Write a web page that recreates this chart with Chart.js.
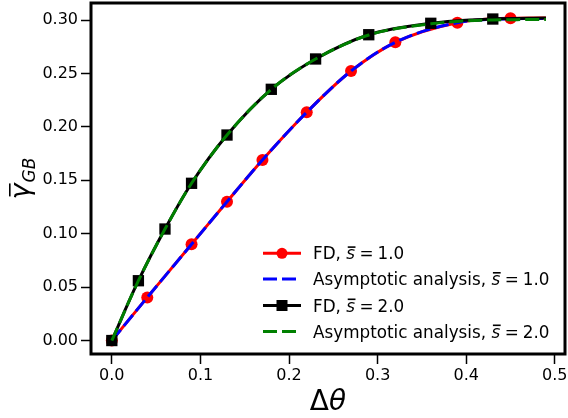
<!DOCTYPE html>
<html>
<head>
<meta charset="utf-8">
<script src="https://cdn.jsdelivr.net/npm/chart.js@4.4.0/dist/chart.umd.min.js"></script>
<style>
  html, body { margin: 0; padding: 0; background: #fff; }
  #wrap { width: 568px; height: 418px; }
</style>
</head>
<body>
<div id="wrap"><canvas id="chart" width="568" height="418"></canvas></div>
<script>
// values
const fdS1X = [0, 0.04, 0.09, 0.13, 0.17, 0.22, 0.27, 0.32, 0.39, 0.45, 0.49];
const fdS1Y = [0, 0.0404, 0.0901, 0.130, 0.169, 0.2137, 0.2523, 0.2792, 0.2976, 0.3017, 0.3020];
const asS1X = [0, 0.04, 0.09, 0.13, 0.17, 0.22, 0.27, 0.32, 0.39, 0.45, 0.49];
const asS1Y = [0, 0.0404, 0.0901, 0.130, 0.169, 0.2137, 0.2523, 0.2792, 0.2976, 0.3012, 0.3015];

const fdS2X = [0, 0.03, 0.06, 0.09, 0.13, 0.18, 0.23, 0.29, 0.36, 0.43, 0.49];
const fdS2Y = [0, 0.056, 0.1044, 0.1472, 0.1924, 0.2352, 0.2636, 0.2863, 0.2970, 0.3010, 0.3020];
const asS2X = [0, 0.03, 0.06, 0.09, 0.13, 0.18, 0.23, 0.29, 0.36, 0.43, 0.49];
const asS2Y = [0, 0.056, 0.1044, 0.1472, 0.1924, 0.2352, 0.2636, 0.2860, 0.2965, 0.3002, 0.3005];

const xTicks = [0, 0.1, 0.2, 0.3, 0.4, 0.5];
const xTickLabels = ["0.0", "0.1", "0.2", "0.3", "0.4", "0.5"];
const yTicks = [0, 0.05, 0.10, 0.15, 0.20, 0.25, 0.30];
const yTickLabels = ["0.00", "0.05", "0.10", "0.15", "0.20", "0.25", "0.30"];

const legendNames = ["FD, ", "Asymptotic analysis, ", "FD, ", "Asymptotic analysis, "];
const legendValues = ["1.0", "1.0", "2.0", "2.0"];

const FONT = "'DejaVu Sans', sans-serif";
const DASH = [14, 5];
// plot box in the figure (matplotlib axes position)
const AREA = { left: 91, right: 565, top: 3, bottom: 354 };

function pts(xs, ys) {
  return xs.map((x, i) => ({ x: x, y: ys[i] }));
}
// markers on every point except the last line end
function markerSizes(xs, r) {
  return xs.map((x, i) => (i === xs.length - 1 ? 0 : r));
}

const styles = [
  { color: "#ff0000", dash: [], marker: "circle" },
  { color: "#0000ff", dash: DASH, marker: null },
  { color: "#000000", dash: [], marker: "rect" },
  { color: "#008000", dash: DASH, marker: null },
];

// pin the chart area to the axes box of the original figure
const areaPlugin = {
  id: "area",
  afterLayout(chart) {
    const a = chart.chartArea;
    a.left = AREA.left; a.right = AREA.right; a.top = AREA.top; a.bottom = AREA.bottom;
    a.width = a.right - a.left; a.height = a.bottom - a.top;
    const x = chart.scales.x, y = chart.scales.y;
    x.left = a.left; x.right = a.right; x.width = a.width; x.top = a.bottom;
    y.top = a.top; y.bottom = a.bottom; y.height = a.height; y.right = a.left;
    x.configure();
    y.configure();
  },
};

const framePlugin = {
  id: "frame",
  afterDatasetsDraw(chart) {
    const { ctx, chartArea: a } = chart;
    ctx.save();
    ctx.strokeStyle = "#000";
    ctx.lineWidth = 3;
    ctx.strokeRect(a.left, a.top, a.right - a.left, a.bottom - a.top);
    ctx.restore();
  },
};

function drawBar(ctx, x, y, w) {
  ctx.fillRect(x, y, w, 1.6);
}

const textPlugin = {
  id: "texts",
  afterDraw(chart) {
    const { ctx, chartArea: a } = chart;
    ctx.save();
    ctx.fillStyle = "#000";

    // x axis title: Δθ
    ctx.textBaseline = "alphabetic";
    ctx.font = "28px " + FONT;
    const wD = ctx.measureText("Δ").width;
    ctx.font = "italic 28px " + FONT;
    const wT = ctx.measureText("θ").width;
    let x0 = (a.left + a.right) / 2 - (wD + wT) / 2;
    ctx.font = "28px " + FONT;
    ctx.fillText("Δ", x0, 410);
    ctx.font = "italic 28px " + FONT;
    ctx.fillText("θ", x0 + wD, 410);

    // y axis title: gamma bar with subscript GB
    ctx.save();
    ctx.font = "italic 27px " + FONT;
    const wg = ctx.measureText("γ").width;
    ctx.font = "italic 17px " + FONT;
    const wGB = ctx.measureText("GB").width;
    const total = wg + 1 + wGB;
    ctx.translate(29, (a.top + a.bottom) / 2 + total / 2);
    ctx.rotate(-Math.PI / 2);
    ctx.font = "italic 27px " + FONT;
    ctx.fillText("γ", 0, 0);
    drawBar(ctx, 3, -20, wg - 3);
    ctx.font = "italic 17px " + FONT;
    ctx.fillText("GB", wg + 1, 6);
    ctx.restore();

    // legend
    const rowY = [253.3, 279, 305.5, 331.5];
    const lx0 = 263, lx1 = 301, tx = 313;
    const fs = 16.8;
    styles.forEach((s, i) => {
      const y = rowY[i];
      ctx.save();
      ctx.strokeStyle = s.color;
      ctx.lineWidth = 3;
      ctx.setLineDash(s.dash);
      ctx.beginPath();
      ctx.moveTo(lx0, y);
      ctx.lineTo(lx1, y);
      ctx.stroke();
      ctx.restore();
      ctx.fillStyle = s.color;
      const cx = (lx0 + lx1) / 2;
      if (s.marker === "circle") {
        ctx.beginPath();
        ctx.arc(cx, y, 5.5, 0, Math.PI * 2);
        ctx.fill();
      } else if (s.marker === "rect") {
        ctx.fillRect(cx - 5.5, y - 5.5, 11, 11);
      }
      ctx.fillStyle = "#000";
      const base = y + 6;
      ctx.font = fs + "px " + FONT;
      ctx.fillText(legendNames[i], tx, base);
      let px = tx + ctx.measureText(legendNames[i]).width;
      ctx.font = "italic " + fs + "px " + FONT;
      const ws = ctx.measureText("s").width;
      ctx.fillText("s", px, base);
      drawBar(ctx, px + 1.5, base - 13, ws - 1);
      px += ws + 4.5;
      ctx.font = fs + "px " + FONT;
      ctx.fillText("=", px, base);
      px += ctx.measureText("=").width + 4;
      ctx.fillText(legendValues[i], px, base);
    });
    ctx.restore();
  },
};

const series = [
  { xs: fdS1X, ys: fdS1Y },
  { xs: asS1X, ys: asS1Y },
  { xs: fdS2X, ys: fdS2Y },
  { xs: asS2X, ys: asS2Y },
];

const datasets = series.map((d, i) => {
  const s = styles[i];
  return {
    data: pts(d.xs, d.ys),
    showLine: true,
    borderColor: s.color,
    backgroundColor: s.color,
    borderWidth: 3,
    borderDash: s.dash,
    cubicInterpolationMode: "monotone",
    pointStyle: s.marker || "circle",
    pointRadius: s.marker === "circle" ? markerSizes(d.xs, 6) : s.marker === "rect" ? markerSizes(d.xs, 8) : 0,
    pointBorderWidth: 0,
    pointHoverRadius: 0,
    order: 4 - i,
  };
});

function axisTicks(values) {
  return (scale) => {
    scale.ticks = values.map((v) => ({ value: v }));
  };
}

new Chart(document.getElementById("chart"), {
  type: "scatter",
  data: { datasets: datasets },
  options: {
    responsive: false,
    animation: false,
    layout: { padding: { top: 3, right: 3, left: 0, bottom: 0 } },
    plugins: { legend: { display: false }, tooltip: { enabled: false } },
    scales: {
      x: {
        type: "linear",
        min: -0.0235,
        max: 0.5115,
        afterBuildTicks: axisTicks(xTicks),
        afterFit: (scale) => { scale.height = 64; },
        border: { display: false },
        grid: { drawOnChartArea: false, drawTicks: true, tickLength: 10, tickWidth: 1.5, tickColor: "#000" },
        ticks: {
          color: "#000",
          font: { family: FONT, size: 16 },
          padding: 2,
          maxRotation: 0,
          autoSkip: false,
          callback: (v) => xTickLabels[xTicks.indexOf(v)] ?? "",
        },
      },
      y: {
        type: "linear",
        min: -0.0126,
        max: 0.316,
        afterBuildTicks: axisTicks(yTicks),
        afterFit: (scale) => { scale.width = 91; },
        border: { display: false },
        grid: { drawOnChartArea: false, drawTicks: true, tickLength: 10, tickWidth: 1.5, tickColor: "#000" },
        ticks: {
          color: "#000",
          font: { family: FONT, size: 16 },
          padding: 3,
          autoSkip: false,
          callback: (v) => yTickLabels[yTicks.indexOf(v)] ?? "",
        },
      },
    },
  },
  plugins: [areaPlugin, framePlugin, textPlugin],
});
</script>
</body>
</html>
